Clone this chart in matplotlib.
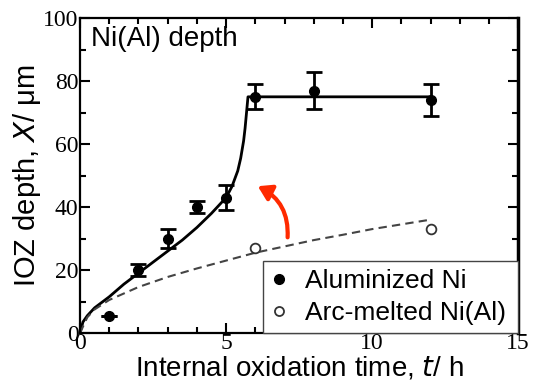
import matplotlib.pyplot as plt
from matplotlib.lines import Line2D
from matplotlib.patches import FancyArrowPatch
from matplotlib.ticker import MultipleLocator

# Aluminized Ni (filled points)
t_al = [1, 2, 3, 4, 5, 6, 8, 12]
x_al = [5.5, 20, 30, 40, 43, 75, 77, 74]
err_al = [0, 2, 3, 2, 4, 4, 6, 5]

# Arc-melted Ni(Al) (open points)
t_arc = [6, 12]
x_arc = [27, 33]

# fitted curve (solid)
t_fit = [0, 0.1, 0.25, 0.5, 1, 1.5, 2, 2.5, 3, 3.5, 4, 4.5, 5, 5.2, 5.4, 5.5,
         5.6, 5.65, 5.7, 5.75, 6, 12]
x_fit = [0, 3.5, 5.5, 8, 11.5, 15.5, 19, 22.5, 26, 29.5, 33.5, 38, 43, 46.5,
         51.5, 55.5, 61, 65, 70, 75, 75, 75]

# fitted curve (dashed)
t_dash = [0, 0.25, 0.5, 1, 2, 3, 4, 5, 6, 7, 8, 9, 10, 11, 12]
x_dash = [0, 5, 7.5, 10.5, 14.6, 17.8, 20.5, 23, 25.5, 27.5, 29.5, 31.2, 33, 34.5, 36]

plt.rcParams['font.family'] = ['Liberation Sans', 'DejaVu Sans']

fig = plt.figure(figsize=(5.37, 3.85), dpi=100)
ax = fig.add_axes([0.149, 0.135, 0.816, 0.818])

ax.plot(t_fit, x_fit, color='black', lw=2)
ax.plot(t_dash, x_dash, color='#444444', lw=1.5, ls=(0, (4, 2.5)))
ax.errorbar(t_al, x_al, yerr=err_al, fmt='o', color='black', ms=7,
            capsize=6, capthick=2, elinewidth=2)
ax.plot(t_arc, x_arc, 'o', mfc='white', mec='#333333', mew=1.3, ms=7, ls='none')

arrow = FancyArrowPatch((7.1, 29.5), (6.0, 47), connectionstyle='arc3,rad=0.35',
                        arrowstyle='-|>,head_length=8,head_width=5',
                        color='#ff2a00', lw=3)
ax.add_patch(arrow)

ax.set_xlim(0, 15)
ax.set_ylim(0, 100)
ax.xaxis.set_major_locator(MultipleLocator(5))
ax.xaxis.set_minor_locator(MultipleLocator(1))
ax.yaxis.set_major_locator(MultipleLocator(20))
ax.yaxis.set_minor_locator(MultipleLocator(10))
ax.tick_params(which='both', direction='in', top=True, right=True, width=1.5)
ax.tick_params(which='major', length=7, pad=1)
ax.tick_params(axis='x', which='major', pad=0)
ax.tick_params(which='minor', length=4)
for lab in ax.get_xticklabels() + ax.get_yticklabels():
    lab.set_fontfamily('Liberation Serif')
    lab.set_fontsize(17)
for s in ax.spines.values():
    s.set_linewidth(1.6)
ax.spines['right'].set_linewidth(2.5)

ax.set_xlabel('Internal oxidation time, $\\it{t}$/ h', fontsize=20, labelpad=0)
ax.set_ylabel('IOZ depth, $\\it{X}$/ μm', fontsize=21, labelpad=0)
ax.text(0.025, 0.975, 'Ni(Al) depth', transform=ax.transAxes, fontsize=20,
        va='top', ha='left')

handles = [Line2D([], [], marker='o', ls='none', color='black', ms=7),
           Line2D([], [], marker='o', ls='none', mfc='white', mec='#333333', mew=1.3, ms=6.5)]
leg = ax.legend(handles, ['Aluminized Ni', 'Arc-melted Ni(Al)'], loc='lower left',
                bbox_to_anchor=(0.418, 0, 0.582, 0.24), mode='expand',
                fontsize=19, frameon=True, fancybox=False, borderaxespad=0,
                handletextpad=0.7, handlelength=0.6, borderpad=0.3,
                labelspacing=0.3, framealpha=1)
leg.get_frame().set_edgecolor('#444444')
leg.get_frame().set_linewidth(1)

fig.savefig('out.png', dpi=100)
